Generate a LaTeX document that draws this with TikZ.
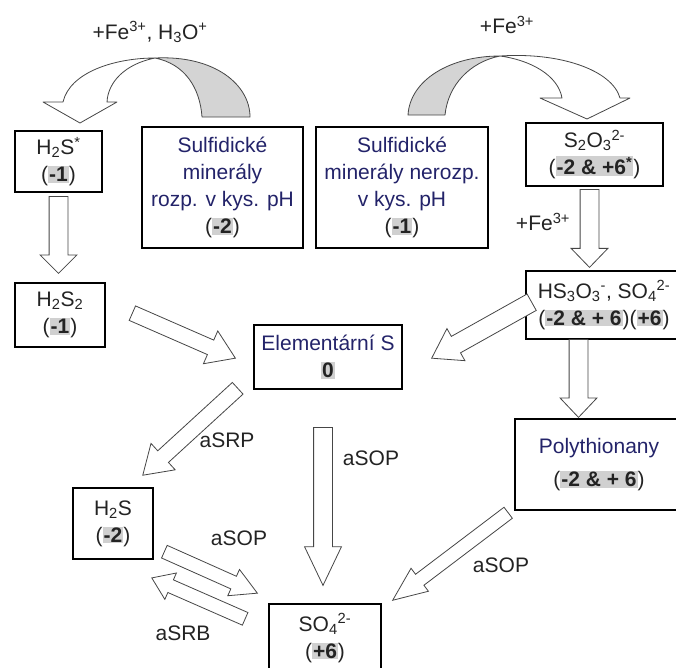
\documentclass[tikz,border=0pt]{standalone}
\usepackage{fontspec}
\setmainfont{Liberation Sans}
\usetikzlibrary{calc,shapes.arrows}
\definecolor{navytext}{RGB}{35,35,105}
\definecolor{inktext}{RGB}{35,35,35}
\definecolor{arrowline}{RGB}{70,70,70}
\definecolor{shadegrey}{RGB}{212,212,212}
\definecolor{oxgrey}{RGB}{208,208,208}
\setlength{\fboxsep}{1pt}
\newcommand\ox[1]{\colorbox{oxgrey}{\bfseries #1}}
% block arrow from tail coordinate to tip coordinate
\newcommand\blockarrow[3][]{%
  \path let \p1=($(#3)-(#2)$) in
    node[barrow,#1,anchor=tail,rotate={atan2(\y1,\x1)},minimum height={veclen(\x1,\y1)}] at (#2) {};}
\tikzset{
  box/.style={draw=black,line width=1.1pt,inner sep=0pt,align=center,text=inktext},
  barrow/.style={single arrow,draw=arrowline,fill=white,line width=0.8pt,inner xsep=0pt,minimum width=0pt,single arrow head indent=0pt},
  bigarr/.style={inner ysep=9pt,single arrow head extend=9pt},
  midarr/.style={inner ysep=7.5pt,single arrow head extend=10pt},
  thinarr/.style={inner ysep=6.5pt,single arrow head extend=7.5pt},
  lbl/.style={text=inktext,inner sep=0pt},
  curvearr/.style={draw=arrowline,line width=0.8pt,line join=round}
}
\begin{document}
\begin{tikzpicture}[x=1pt,y=-1pt,font=\fontsize{21}{27}\selectfont]
\useasboundingbox (0,0) rectangle (676,667);
% boxes
\node[box,minimum width=87pt,minimum height=61pt] (h2sstar) at (58.5,161.5) {H\textsubscript{2}S\textsuperscript{*}\\(\ox{-1})};
\node[box,text=navytext,minimum width=161pt,minimum height=121pt] (rozp) at (222.5,187.5) {Sulfidické\\minerály\\rozp. v kys. pH\\\textcolor{inktext}{(\ox{-2})}};
\node[box,text=navytext,minimum width=172pt,minimum height=121pt] (nerozp) at (402,187.5) {Sulfidické\\minerály nerozp.\\v kys. pH\\\textcolor{inktext}{(\ox{-1})}};
\node[box,minimum width=137pt,minimum height=63pt] (s2o3) at (594.5,154.5) {S\textsubscript{2}O\textsubscript{3}\textsuperscript{2-}\\(\ox{-2 \& +6\textsuperscript{*}})};
\node[box,minimum width=90pt,minimum height=64pt] (h2s2) at (60,315) {H\textsubscript{2}S\textsubscript{2}\\(\ox{-1})};
\node[box,minimum width=148pt,minimum height=64pt] (elem) at (328,357) {\textcolor{navytext}{Elementární S}\\\ox{0}};
\node[box,minimum width=156pt,minimum height=68pt] (hs3o3) at (604,305) {HS\textsubscript{3}O\textsubscript{3}\textsuperscript{-}, SO\textsubscript{4}\textsuperscript{2-}\\(\ox{-2 \& + 6})(\ox{+6})};
\node[box,minimum width=168pt,minimum height=91pt] (poly) at (599,464.5) {\textcolor{navytext}{Polythionany}\\[6pt](\ox{-2 \& + 6})};
\node[box,minimum width=80pt,minimum height=71pt] (h2s) at (113,523.5) {H\textsubscript{2}S\\(\ox{-2})};
\node[box,minimum width=112pt,minimum height=68pt] (so4) at (325,638) {SO\textsubscript{4}\textsuperscript{2-}\\(\ox{+6})};
% curved arrows on top
\filldraw[curvearr,fill=shadegrey] (155,58) .. controls (215,55) and (250,85) .. (250,117) -- (202,117) .. controls (200,88) and (185,64) .. (155,58) -- cycle;
\filldraw[curvearr,fill=white] (155,58) .. controls (115,58) and (70,72) .. (63,102) -- (43,102) -- (80,123) -- (117,102) -- (107,102) .. controls (108,82) and (125,64) .. (155,58) -- cycle;
\filldraw[curvearr,fill=shadegrey] (500,56) .. controls (450,56) and (410,80) .. (408,115) -- (445,115) .. controls (448,85) and (470,62) .. (500,56) -- cycle;
\filldraw[curvearr,fill=white] (500,56) .. controls (560,52) and (612,70) .. (620,98) -- (630,98) -- (587,119) -- (540,98) -- (562,98) .. controls (558,75) and (530,60) .. (500,56) -- cycle;
\node[lbl] (fehl) at (150,32) {+Fe\textsuperscript{3+}, H\textsubscript{3}O\textsuperscript{+}};
\node[lbl] (fetop) at (507,25) {+Fe\textsuperscript{3+}};
% arrow ends
\coordinate (a1) at (58.5,196);  \coordinate (a2) at (58.5,273);
\coordinate (b1) at (589.5,189); \coordinate (b2) at (589.5,267);
\coordinate (c1) at (578.5,339); \coordinate (c2) at (578.5,417);
\coordinate (d1) at (132,313);   \coordinate (d2) at (235,358);
\coordinate (e1) at (532,302);   \coordinate (e2) at (432,358);
\coordinate (f1) at (238,388);   \coordinate (f2) at (143,475);
\coordinate (g1) at (323,427);   \coordinate (g2) at (323,585);
\coordinate (h1) at (164,551.5); \coordinate (h2) at (257,593);
\coordinate (i1) at (245.5,619); \coordinate (i2) at (152,578);
\coordinate (j1) at (508.5,512.5); \coordinate (j2) at (393,600);
\blockarrow[bigarr,single arrow tip angle=90]{a1}{a2}
\blockarrow[bigarr,single arrow tip angle=88]{b1}{b2}
\blockarrow[bigarr,single arrow tip angle=87]{c1}{c2}
\blockarrow[midarr,single arrow tip angle=67]{d1}{d2}
\blockarrow[bigarr,single arrow tip angle=67]{e1}{e2}
\blockarrow[midarr,single arrow tip angle=66]{f1}{f2}
\blockarrow[bigarr,single arrow tip angle=51]{g1}{g2}
\blockarrow[thinarr,single arrow tip angle=58]{h1}{h2}
\blockarrow[thinarr,single arrow tip angle=70]{i1}{i2}
\blockarrow[thinarr,single arrow tip angle=46]{j1}{j2}
% labels
\node[lbl] (fe) at (543,222) {+Fe\textsuperscript{3+}};
\node[lbl] (srp) at (227,440) {aSRP};
\node[lbl] (sopmid) at (371,458) {aSOP};
\node[lbl] (sopleft) at (239,538) {aSOP};
\node[lbl] (srb) at (183,633) {aSRB};
\node[lbl] (sopright) at (501,565) {aSOP};
\end{tikzpicture}
\end{document}
